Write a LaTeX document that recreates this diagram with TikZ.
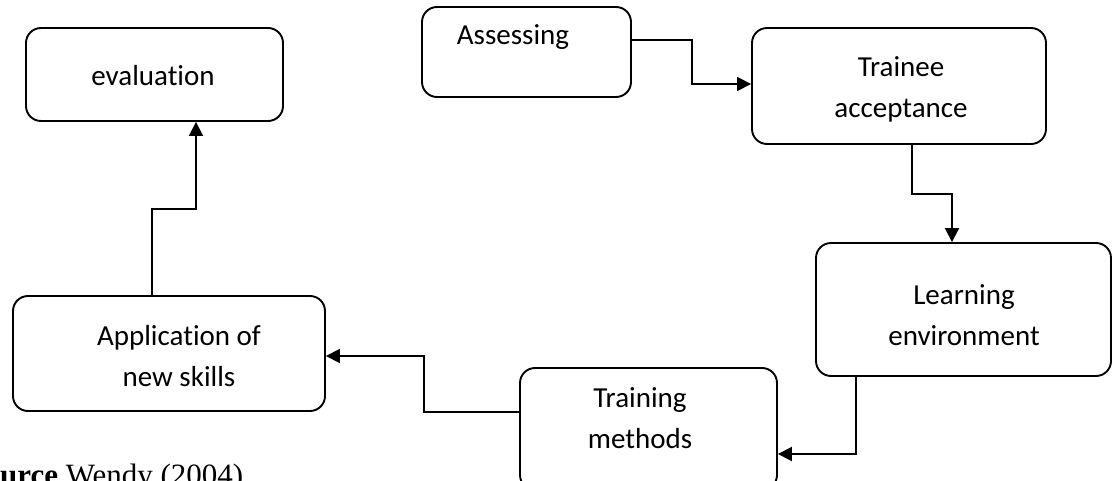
\documentclass[tikz,border=0pt]{standalone}
\usepackage{fontspec}
\setmainfont{Carlito}[Ligatures=NoCommon]
\newfontfamily\srcfont{Liberation Serif}
\usetikzlibrary{arrows.meta}

\begin{document}
\begin{tikzpicture}[x=1pt,y=-1pt,
    box/.style={draw, line width=1.9pt, rounded corners=15pt, inner sep=0pt},
    txt/.style={align=center, font=\fontsize{29}{41}\selectfont, inner sep=0pt},
    arr/.style={line width=1.9pt, -{Triangle[length=14pt,width=14pt]}}]
	\useasboundingbox (0,0) rectangle (1112,481);

            \node[box, minimum width=257pt, minimum height=93pt] (eval) at (154.5,74.5) {};
            \node[box, minimum width=209pt, minimum height=90pt] (assess) at (526.5,52) {};
            \node[box, minimum width=294pt, minimum height=116pt] (trainee) at (899,86) {};
            \node[box, minimum width=295pt, minimum height=133pt] (learn) at (963.5,309.5) {};
            \node[box, minimum width=257pt, minimum height=122pt] (train) at (648.5,429) {};
            \node[box, minimum width=312pt, minimum height=115pt] (app) at (169,353.5) {};

            \node[txt] (evaltxt) at (153,76) {evaluation};
            \node[txt] (assesstxt) at (513,37) {Assessing};
            \node[txt] (traineetxt) at (901,89) {Trainee\\acceptance};
            \node[txt] (learntxt) at (964,315) {Learning\\environment};
            \node[txt] (traintxt) at (640,418) {Training\\methods};
            \node[txt] (apptxt) at (179,356.5) {Application of\\new skills};

            \draw[arr] ([yshift=12pt]assess.east) -- ++(60,0) |- ([yshift=2pt]trainee.west);
            \draw[arr] ([xshift=13pt]trainee.south) -- ++(0,49) -| ([xshift=-11.5pt]learn.north);
            \draw[arr] ([xshift=-107.5pt]learn.south) |- ([yshift=-25pt]train.east);
            \draw[arr] ([yshift=17pt]train.west) -- ++(-95,0) |- ([yshift=-2.5pt]app.east);
            \draw[arr] ([xshift=-17pt]app.north) -- ++(0,-86) -| ([xshift=41.5pt]eval.south);

            \node[anchor=base west, inner sep=0pt, font=\srcfont\fontsize{31}{36}\selectfont] (source) at (0,485) {\textbf{urce} Wendy (2004)};
        \end{tikzpicture}
\end{document}
